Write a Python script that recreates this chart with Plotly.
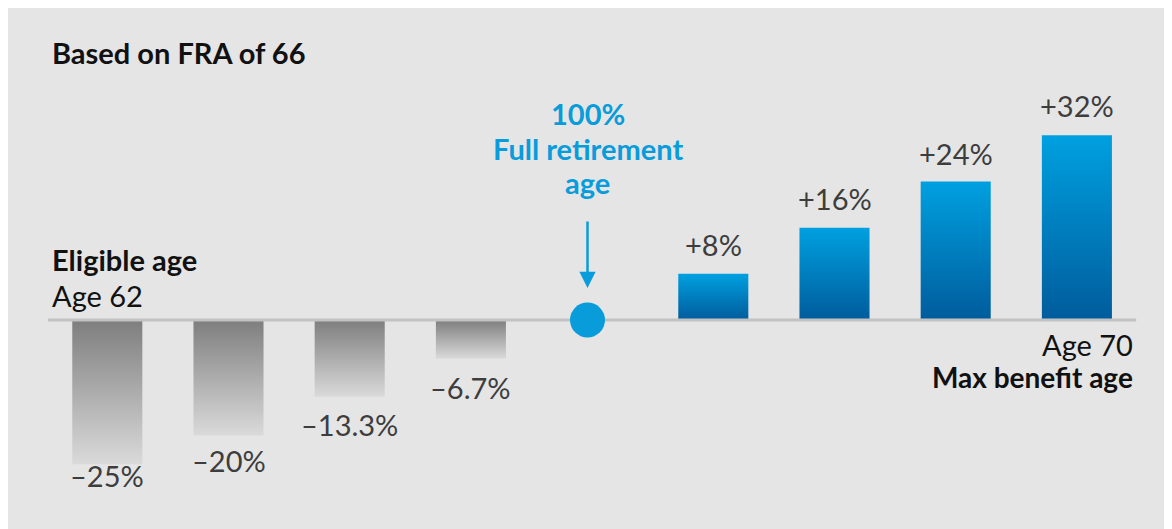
import plotly.graph_objects as go

# ---- data ----
ages = [62, 63, 64, 65, 66, 67, 68, 69, 70]
change_pct = [-25, -20, -13.3, -6.7, 0, 8, 16, 24, 32]
value_labels = ["–25%", "–20%", "–13.3%", "–6.7%", None, "+8%", "+16%", "+24%", "+32%"]
fra_index = 4
title_text = "Based on FRA of 66"
fra_text = ["100%", "Full retirement", "age"]

W, H = 1172, 529
FONT = "Lato"
BLUE = "#089cdb"
LABEL = "#3d3d3d"
BG = "#e5e5e5"

# pixel geometry (figure coordinates)
X0_PX, STEP_PX = 99.3, 121.2      # first category centre, category spacing
BASE_PX, PX_PER_PCT = 312, 5.77   # zero line position, pixels per percent

fig = go.Figure()

bar_w = 0.578
for i, v in enumerate(change_pct):
    if i == fra_index:
        continue
    xs = [i - bar_w / 2, i + bar_w / 2, i + bar_w / 2, i - bar_w / 2, i - bar_w / 2]
    ys = [0, 0, v, v, 0]
    if v < 0:
        cs = [[0, "#dadada"], [1, "#7e7e7e"]]
    else:
        cs = [[0, "#005c9c"], [1, "#00a0e0"]]
    fig.add_trace(go.Scatter(
        x=xs, y=ys, mode="lines", fill="toself",
        line=dict(width=0),
        fillgradient=dict(type="vertical", colorscale=cs),
        hoverinfo="skip", showlegend=False,
    ))

# baseline (spans the categories plus a little padding)
pad = 0.2
fig.add_trace(go.Scatter(
    x=[0 - bar_w / 2 - pad, len(ages) - 1 + bar_w / 2 + pad], y=[0, 0],
    mode="lines", line=dict(color="#c2c2c2", width=3),
    hoverinfo="skip", showlegend=False,
))

# FRA point
dx = -0.038
fig.add_trace(go.Scatter(
    x=[fra_index + dx], y=[change_pct[fra_index]], mode="markers",
    marker=dict(size=35, color=BLUE, line=dict(width=0)),
    hoverinfo="skip", showlegend=False,
))

# arrow
fig.add_annotation(x=fra_index + dx, y=0, xref="x", yref="y", text="",
                   showarrow=True, ax=0, ay=-100, axref="pixel", ayref="pixel",
                   standoff=32, arrowhead=2, arrowsize=1.3, arrowwidth=2.5,
                   arrowcolor=BLUE)

# value labels
shifts = [-11.5, -25.5, -27.5, -28.5, 0, 29, 29.5, 28.5, 29.5]
for i, (v, lab) in enumerate(zip(change_pct, value_labels)):
    if lab is None:
        continue
    fig.add_annotation(x=i, y=v, xref="x", yref="y", text=lab, showarrow=False,
                       yanchor="middle", yshift=shifts[i],
                       font=dict(family=FONT, size=29, color=LABEL))

def px(xp, yp):
    return xp / W, 1 - yp / H

def text(xp, yp, s, anchor, size, color="#111111"):
    x0, y0 = px(xp, yp)
    fig.add_annotation(x=x0, y=y0, xref="paper", yref="paper", xanchor=anchor,
                       yanchor="middle", text=s, showarrow=False,
                       font=dict(family=FONT, size=size, color=color))

text(42, 44.5, f"<b>{title_text}</b>", "left", 29)
text(42, 251.5, "<b>Eligible age</b>", "left", 29)
text(42, 287.5, f"Age {ages[0]}", "left", 29)
text(1127, 336, f"Age {ages[-1]}", "right", 29)
text(1127, 368.5, "<b>Max benefit age</b>", "right", 28)
for yy, s in zip([105, 140.5, 174], fra_text):
    text(579.5, yy, f"<b>{s}</b>", "center", 29, BLUE)

fig.update_layout(
    width=W, height=H,
    margin=dict(l=0, r=0, t=0, b=0),
    paper_bgcolor=BG, plot_bgcolor=BG,
    xaxis=dict(range=[-X0_PX / STEP_PX, (W - X0_PX) / STEP_PX], visible=False, fixedrange=True),
    yaxis=dict(range=[-(H - BASE_PX) / PX_PER_PCT, BASE_PX / PX_PER_PCT], visible=False, fixedrange=True),
    showlegend=False,
)

fig.write_html("out.html")
